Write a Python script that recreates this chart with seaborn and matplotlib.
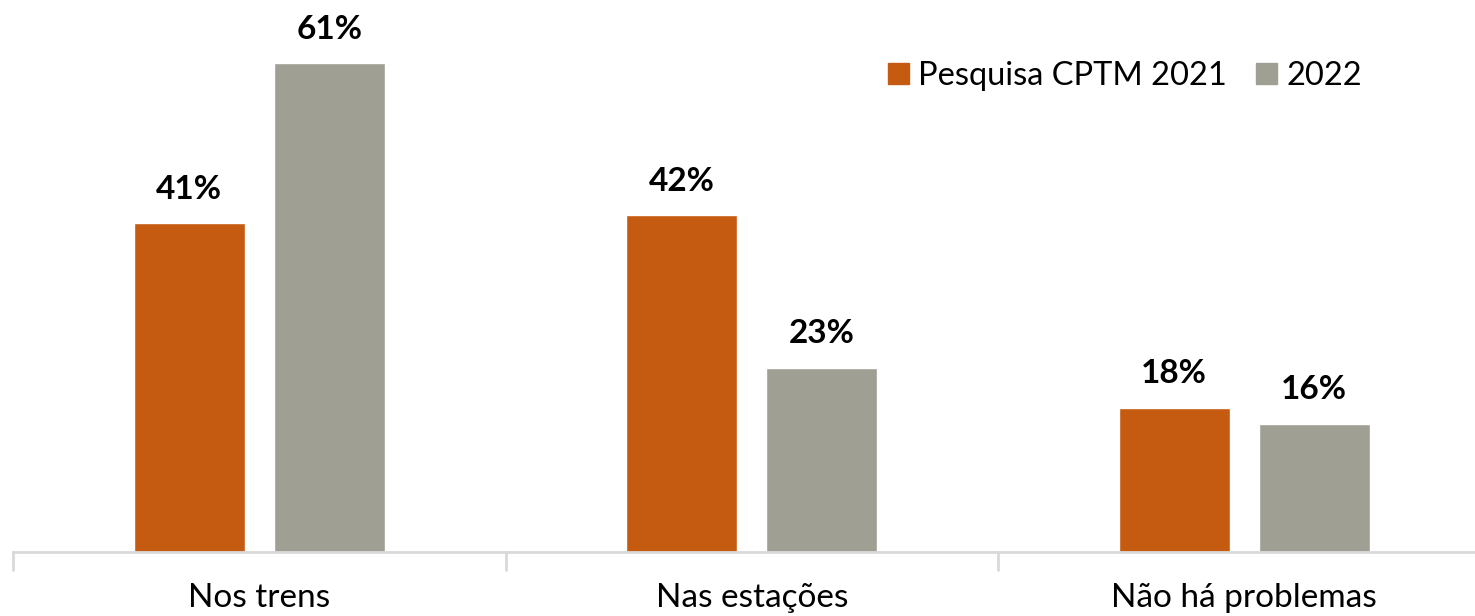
import pandas as pd
import seaborn as sns
import matplotlib.pyplot as plt
from matplotlib.patches import Rectangle

categorias = ["Nos trens", "Nas estações", "Não há problemas"]
series = ["Pesquisa CPTM 2021", "2022"]
valores_2021 = [41, 42, 18]
valores_2022 = [61, 23, 16]
cores = ["#C55A11", "#A09F93"]

df = pd.DataFrame({
    "categoria": categorias * 2,
    "serie": [series[0]] * 3 + [series[1]] * 3,
    "valor": valores_2021 + valores_2022,
})

sns.set_style("white")
plt.rcParams["font.family"] = ["Lato", "DejaVu Sans"]
plt.rcParams["text.color"] = "black"
plt.rcParams["xtick.color"] = "black"

fig = plt.figure(figsize=(14.75, 6.16), dpi=100)
ax = fig.add_axes([13 / 1475, 64 / 616, 1477.5 / 1475, 545 / 616])

sns.barplot(data=df, x="categoria", y="valor", hue="serie", palette=cores,
            width=0.5685, gap=0.207, ax=ax, legend=False, saturation=1)

ax.set_ylim(0, 68)
ax.set_xlim(-0.5, 2.5)
ax.set_xlabel("")
ax.set_ylabel("")
ax.set_yticks([])
for lado in ["top", "right", "left"]:
    ax.spines[lado].set_visible(False)
ax.spines["bottom"].set_color("#D9D9D9")
ax.spines["bottom"].set_linewidth(2)

# marcas entre as categorias
ax.set_xticks([0, 1, 2])
ax.set_xticklabels(categorias, fontsize=24)
ax.tick_params(axis="x", length=0, pad=22, colors="black")
for xm in [-0.5, 0.5, 1.5, 2.5]:
    ax.plot([xm, xm], [0, -2.3], color="#D9D9D9", lw=2, clip_on=False)

for cont in ax.containers:
    for barra in cont:
        ax.annotate(f"{barra.get_height():.0f}%",
                    (barra.get_x() + barra.get_width() / 2, barra.get_height()),
                    xytext=(0, 14), textcoords="offset points",
                    ha="center", va="bottom", fontsize=24, fontweight="bold",
                    color="black")

handles = [Rectangle((0, 0), 1, 1, color=c) for c in cores]
fig.legend(handles, series, loc="center left", bbox_to_anchor=(888 / 1475, 1 - 76 / 616),
           frameon=False, ncol=2, fontsize=23.5, handlelength=0.64, handleheight=0.64,
           handletextpad=0.28, columnspacing=0.9, borderpad=0, borderaxespad=0)

fig.savefig("out.png", dpi=100)
